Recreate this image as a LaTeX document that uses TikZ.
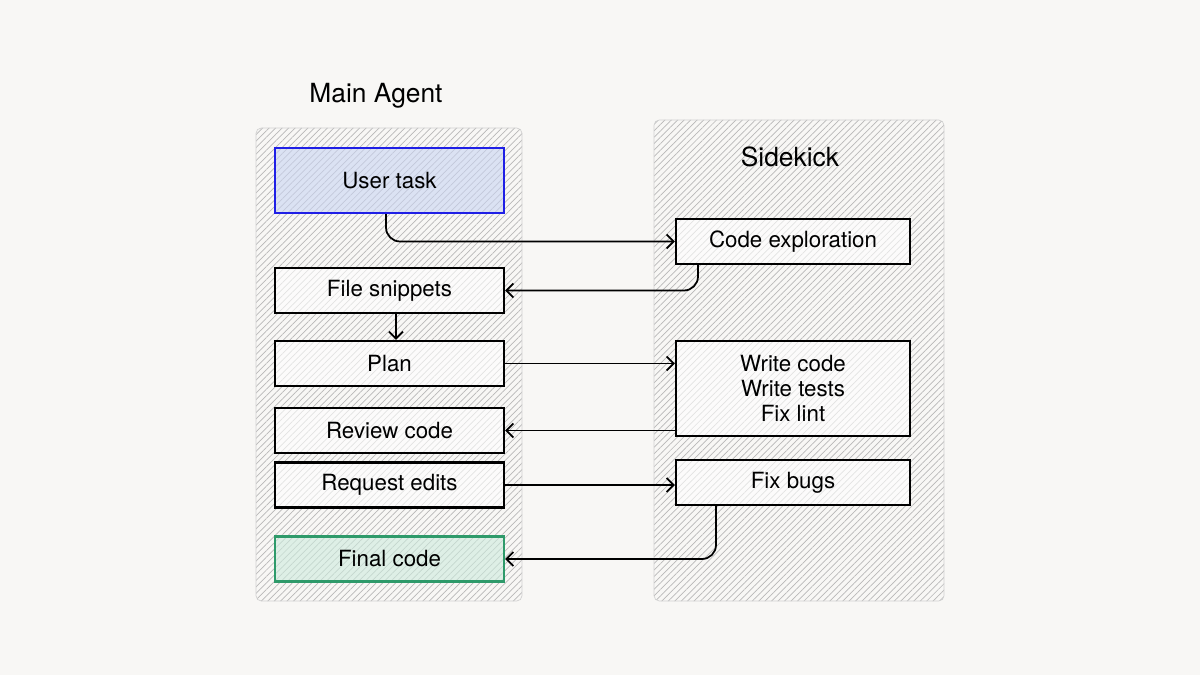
\documentclass[tikz,border=0pt]{standalone}
\usepackage{fontspec}
\setmainfont{TeX Gyre Heros}
\usetikzlibrary{patterns.meta,arrows.meta,positioning}
\definecolor{bgcol}{HTML}{F8F7F5}
\definecolor{taskblue}{HTML}{1F1FE6}
\definecolor{taskfill}{HTML}{C9D4F2}
\definecolor{finalgreen}{HTML}{2E9A6A}
\definecolor{finalfill}{HTML}{CDEBDD}
\tikzset{
	panel/.style={draw=black!18, rounded corners=3pt,
		pattern={Lines[angle=45,distance=2.6pt,line width=0.4pt]}, pattern color=black!28},
	stepbox/.style={draw=black, line width=1.2pt, fill=white, fill opacity=0.6, text opacity=1,
		minimum width=4.58cm, minimum height=0.9cm, font=\fontsize{12.7}{14}\selectfont, align=center},
	flow/.style={line width=1pt, rounded corners=8pt, -{Straight Barb[length=4pt,width=8pt]}}
}
\begin{document}
\begin{tikzpicture}[x=0.02cm,y=-0.02cm]
	\fill[bgcol] (0,0) rectangle (1200,675);
	\useasboundingbox (0,0) rectangle (1200,675);
	
	\draw[panel] (256,128) rectangle (522,601);
	\draw[panel] (654,120) rectangle (944,601);
	\node[font=\fontsize{15}{18}\selectfont] (maintitle) at (376,96) {Main Agent};
	\node[font=\fontsize{15}{18}\selectfont] (sidetitle) at (790,157) {Sidekick};
	
	% main agent steps
	\node[stepbox, draw=taskblue, fill=taskfill, minimum height=1.3cm] (task) at (389.5,180.5) {User task};
	\node[stepbox] (snippets) at (389.5,290.5) {File snippets};
	\node[stepbox] (plan) at (389.5,363.5) {Plan};
	\node[stepbox] (review) at (389.5,430.5) {Review code};
	\node[stepbox] (request) at (389.5,485) {Request edits};
	\node[stepbox, draw=finalgreen, fill=finalfill] (final) at (389.5,559) {Final code};
	
	% sidekick steps
	\node[stepbox, minimum width=4.68cm] (explore) at (793,241.5) {Code exploration};
	\node[stepbox, minimum width=4.68cm, minimum height=1.9cm] (write) at (793,388.5) {Write code\\Write tests\\Fix lint};
	\node[stepbox, minimum width=4.68cm] (bugs) at (793,482.5) {Fix bugs};
	
	\draw[flow] (task.south -| 386,0) |- (explore.west);
	\draw[flow] (explore.south -| 698,0) |- (snippets.east);
	\draw[flow] (snippets.south -| 396,0) -- (plan.north -| 396,0);
	\draw[flow] (plan.east) -- (plan.east -| write.west);
	\draw[flow] (write.west |- review.east) -- (review.east);
	\draw[flow] (request.east) -- (request.east -| bugs.west);
	\draw[flow] (bugs.south -| 716,0) |- (final.east);
\end{tikzpicture}
\end{document}
